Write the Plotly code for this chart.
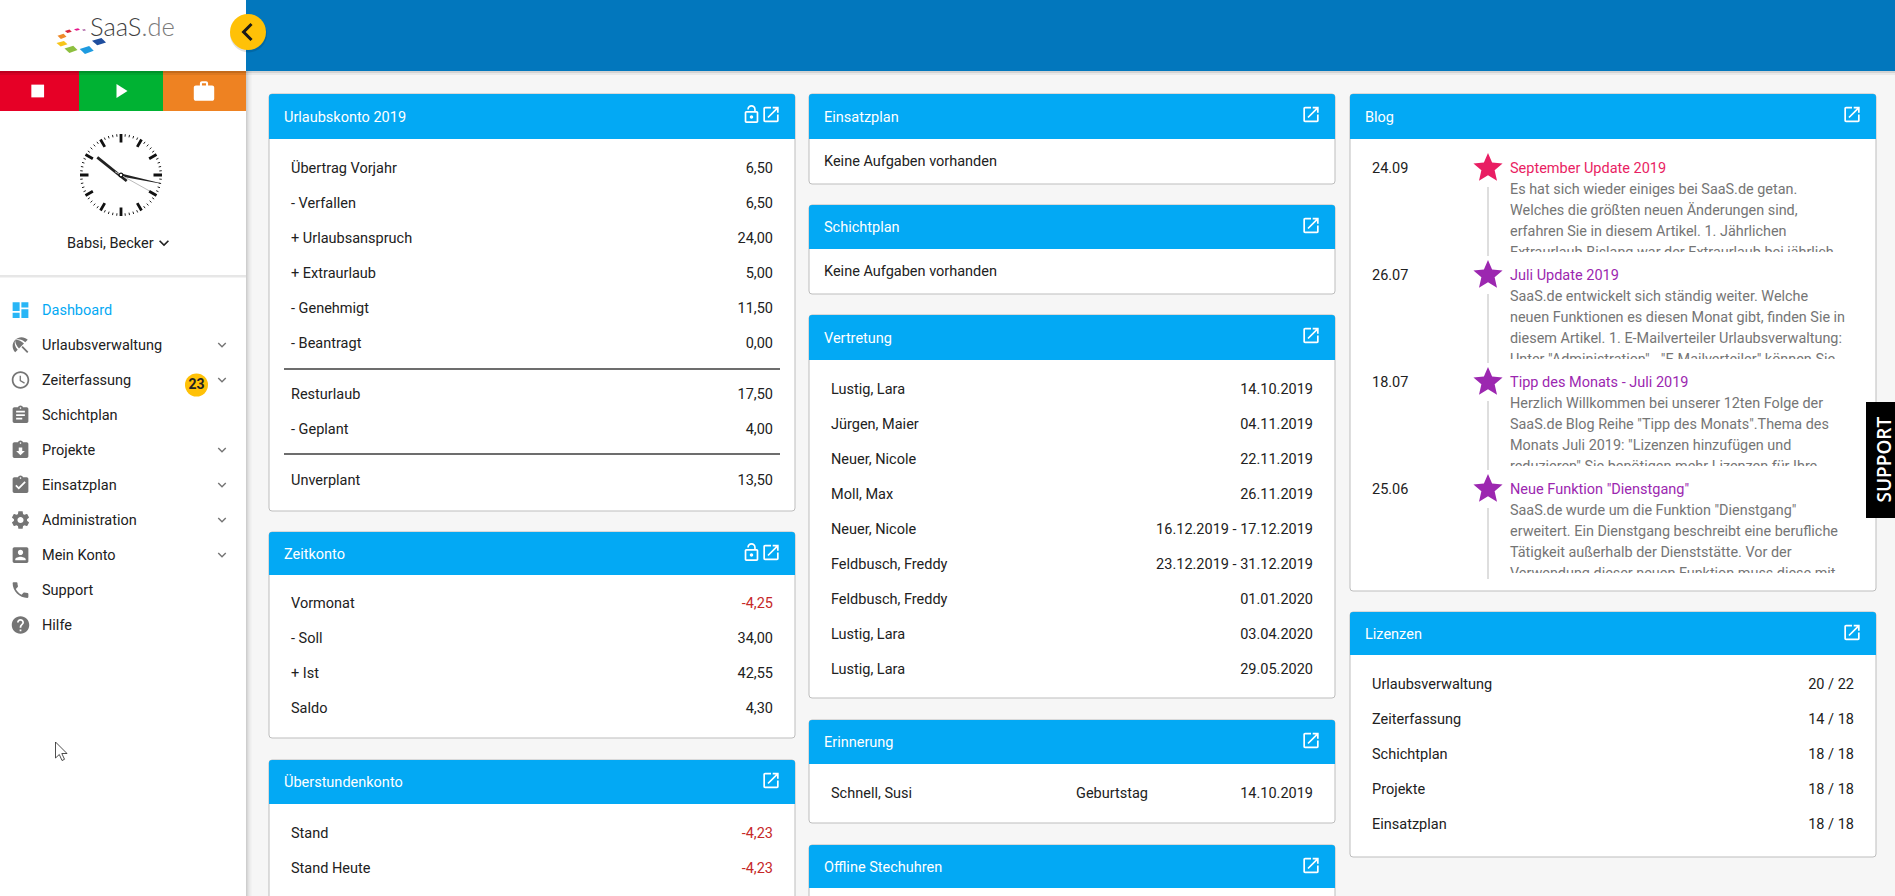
import math, re
from collections import defaultdict
import plotly.graph_objects as go

# ---------- content ----------
NAV_ITEMS = ["Dashboard", "Urlaubsverwaltung", "Zeiterfassung", "Schichtplan", "Projekte",
             "Einsatzplan", "Administration", "Mein Konto", "Support", "Hilfe"]
NAV_HAS_CHEVRON = [False, True, True, False, True, True, True, True, False, False]
USER_NAME = "Babsi, Becker"
BADGE_COUNT = "23"

URLAUB_TITLE = "Urlaubskonto 2019"
URLAUB_LABELS = ["Übertrag Vorjahr", "- Verfallen", "+ Urlaubsanspruch", "+ Extraurlaub", "- Genehmigt",
                 "- Beantragt", "Resturlaub", "- Geplant", "Unverplant"]
URLAUB_VALUES = ["6,50", "6,50", "24,00", "5,00", "11,50", "0,00", "17,50", "4,00", "13,50"]
ZEIT_LABELS = ["Vormonat", "- Soll", "+ Ist", "Saldo"]
ZEIT_VALUES = ["-4,25", "34,00", "42,55", "4,30"]
UEBER_LABELS = ["Stand", "Stand Heute"]
UEBER_VALUES = ["-4,23", "-4,23"]
EMPTY_TEXT = "Keine Aufgaben vorhanden"
VERTRETUNG_NAMES = ["Lustig, Lara", "Jürgen, Maier", "Neuer, Nicole", "Moll, Max", "Neuer, Nicole",
                    "Feldbusch, Freddy", "Feldbusch, Freddy", "Lustig, Lara", "Lustig, Lara"]
VERTRETUNG_DATES = ["14.10.2019", "04.11.2019", "22.11.2019", "26.11.2019", "16.12.2019 - 17.12.2019",
                    "23.12.2019 - 31.12.2019", "01.01.2020", "03.04.2020", "29.05.2020"]
ERINNERUNG = ["Schnell, Susi", "Geburtstag", "14.10.2019"]
BLOG_DATES = ["24.09", "26.07", "18.07", "25.06"]
BLOG_TITLES = ["September Update 2019", "Juli Update 2019", "Tipp des Monats - Juli 2019",
               'Neue Funktion "Dienstgang"']
BLOG_COLORS = ["#E91E63", "#9C27B0", "#9C27B0", "#9C27B0"]
BLOG_BODIES = [
    ["Es hat sich wieder einiges bei SaaS.de getan.", "Welches die größten neuen Änderungen sind,",
     "erfahren Sie in diesem Artikel. 1. Jährlichen", "Extraurlaub Bislang war der Extraurlaub bei jährlich"],
    ["SaaS.de entwickelt sich ständig weiter. Welche", "neuen Funktionen es diesen Monat gibt, finden Sie in",
     "diesem Artikel. 1. E-Mailverteiler Urlaubsverwaltung:", 'Unter "Administration" - "E-Mailverteiler" können Sie'],
    ["Herzlich Willkommen bei unserer 12ten Folge der", 'SaaS.de Blog Reihe "Tipp des Monats".Thema des',
     'Monats Juli 2019: "Lizenzen hinzufügen und', 'reduzieren" Sie benötigen mehr Lizenzen für Ihre'],
    ['SaaS.de wurde um die Funktion "Dienstgang"', "erweitert. Ein Dienstgang beschreibt eine berufliche",
     "Tätigkeit außerhalb der Dienststätte. Vor der", "Verwendung dieser neuen Funktion muss diese mit"],
]
LIZENZ_LABELS = ["Urlaubsverwaltung", "Zeiterfassung", "Schichtplan", "Projekte", "Einsatzplan"]
LIZENZ_VALUES = ["20 / 22", "14 / 18", "18 / 18", "18 / 18", "18 / 18"]

# ---------- icon outlines (24 unit grid) ----------
ICONS = {
    "dash": "M3 13h8V3H3v10zm0 8h8v-6H3v6zm10 0h8V11h-8v10zm0-18v6h8V3h-8z",
    "open": "M19 19H5V5h7V3H5c-1.11 0-2 .9-2 2v14c0 1.1.89 2 2 2h14c1.1 0 2-.9 2-2v-7h-2v7zM14 3v2h3.59l-9.83 9.83 1.41 1.41L19 6.41V10h2V3h-7z",
    "lock": "M12 17c1.1 0 2-.9 2-2s-.9-2-2-2-2 .9-2 2 .9 2 2 2zm6-9h-1V6c0-2.76-2.24-5-5-5S7 3.24 7 6h1.9c0-1.71 1.39-3.1 3.1-3.1 1.71 0 3.1 1.39 3.1 3.1v2H6c-1.1 0-2 .9-2 2v10c0 1.1.9 2 2 2h12c1.1 0 2-.9 2-2V10c0-1.1-.9-2-2-2zm0 12H6V10h12v10z",
    "clock": "M11.99 2C6.47 2 2 6.48 2 12s4.47 10 9.99 10C17.52 22 22 17.52 22 12S17.52 2 11.99 2zM12 20c-4.42 0-8-3.58-8-8s3.58-8 8-8 8 3.58 8 8-3.58 8-8 8zm.5-13H11v6l5.25 3.15.75-1.23-4.5-2.67z",
    "assign": "M19 3h-4.18C14.4 1.84 13.3 1 12 1c-1.3 0-2.4.84-2.82 2H5c-1.1 0-2 .9-2 2v14c0 1.1.9 2 2 2h14c1.1 0 2-.9 2-2V5c0-1.1-.9-2-2-2zm-7 0c.55 0 1 .45 1 1s-.45 1-1 1-1-.45-1-1 .45-1 1-1zm2 14H7v-2h7v2zm3-4H7v-2h10v2zm0-4H7V7h10v2z",
    "returned": "M19 3h-4.18C14.4 1.84 13.3 1 12 1c-1.3 0-2.4.84-2.82 2H5c-1.1 0-2 .9-2 2v14c0 1.1.9 2 2 2h14c1.1 0 2-.9 2-2V5c0-1.1-.9-2-2-2zm-7 0c.55 0 1 .45 1 1s-.45 1-1 1-1-.45-1-1 .45-1 1-1zm0 15l-5-5h3V9h4v4h3l-5 5z",
    "turned": "M19 3h-4.18C14.4 1.84 13.3 1 12 1c-1.3 0-2.4.84-2.82 2H5c-1.1 0-2 .9-2 2v14c0 1.1.9 2 2 2h14c1.1 0 2-.9 2-2V5c0-1.1-.9-2-2-2zm-7 0c.55 0 1 .45 1 1s-.45 1-1 1-1-.45-1-1 .45-1 1-1zm-2 14l-4-4 1.41-1.41L10 14.17l6.59-6.59L18 9l-8 8z",
    "gear": "M19.43 12.98c.04-.32.07-.64.07-.98s-.03-.66-.07-.98l2.11-1.65c.19-.15.24-.42.12-.64l-2-3.46c-.12-.22-.39-.3-.61-.22l-2.49 1c-.52-.4-1.08-.73-1.69-.98l-.38-2.65C14.46 2.18 14.25 2 14 2h-4c-.25 0-.46.18-.49.42l-.38 2.65c-.61.25-1.17.59-1.69.98l-2.49-1c-.23-.09-.49 0-.61.22l-2 3.46c-.13.22-.07.49.12.64l2.11 1.65c-.04.32-.07.65-.07.98s.03.66.07.98l-2.11 1.65c-.19.15-.24.42-.12.64l2 3.46c.12.22.39.3.61.22l2.49-1c.52.4 1.08.73 1.69.98l.38 2.65c.03.24.24.42.49.42h4c.25 0 .46-.18.49-.42l.38-2.65c.61-.25 1.17-.59 1.69-.98l2.49 1c.23.09.49 0 .61-.22l2-3.46c.12-.22.07-.49-.12-.64l-2.11-1.65zM12 15.5c-1.93 0-3.5-1.57-3.5-3.5s1.57-3.5 3.5-3.5 3.5 1.57 3.5 3.5-1.57 3.5-3.5 3.5z",
    "account": "M3 5v14c0 1.1.89 2 2 2h14c1.1 0 2-.9 2-2V5c0-1.1-.9-2-2-2H5c-1.11 0-2 .9-2 2zm12 4c0 1.66-1.34 3-3 3s-3-1.34-3-3 1.34-3 3-3 3 1.34 3 3zm-9 8c0-2 4-3.1 6-3.1s6 1.1 6 3.1v1H6v-1z",
    "phone": "M6.62 10.79c1.44 2.83 3.76 5.14 6.59 6.59l2.2-2.2c.27-.27.67-.36 1.02-.24 1.12.37 2.33.57 3.57.57.55 0 1 .45 1 1V20c0 .55-.45 1-1 1-9.39 0-17-7.61-17-17 0-.55.45-1 1-1h3.5c.55 0 1 .45 1 1 0 1.25.2 2.45.57 3.57.11.35.03.74-.25 1.02l-2.2 2.2z",
    "help": "M12 2C6.48 2 2 6.48 2 12s4.48 10 10 10 10-4.48 10-10S17.52 2 12 2zm1 17h-2v-2h2v2zm2.07-7.75l-.9.92C13.45 12.9 13 13.5 13 15h-2v-.5c0-1.1.45-2.1 1.17-2.83l1.24-1.26c.37-.36.59-.86.59-1.41 0-1.1-.9-2-2-2s-2 .9-2 2H8c0-2.21 1.79-4 4-4s4 1.79 4 4c0 .88-.36 1.68-.93 2.25z",
    "beach": "M13.127 14.56l1.43-1.43 6.44 6.443L19.57 21zm4.293-5.73l2.86-2.86c-3.95-3.95-10.35-3.96-14.3-.02 3.93-1.3 8.31-.25 11.44 2.88zM5.95 5.98c-3.94 3.95-3.93 10.35.02 14.3l2.86-2.86C5.7 14.29 4.65 9.91 5.95 5.98zm.02-.02l-.01.01c-.38 3.01 1.17 6.88 4.3 10.02l5.73-5.73c-3.13-3.13-7.01-4.68-10.02-4.3z",
    "work": "M20 6h-4V4c0-1.11-.89-2-2-2h-4c-1.11 0-2 .89-2 2v2H4c-1.11 0-1.99.89-1.99 2L2 19c0 1.11.89 2 2 2h16c1.11 0 2-.89 2-2V8c0-1.11-.89-2-2-2zm-6 0h-4V4h4v2z",
    "star": "M12 17.27L18.18 21l-1.64-7.03L22 9.24l-7.19-.61L12 2 9.19 8.63 2 9.24l5.46 4.73L5.82 21z",
    "down": "M7.41 8.59L12 13.17l4.59-4.58L18 10l-6 6-6-6 1.41-1.41z",
    "left": "M15.41 7.41L14 6l-6 6 6 6 1.41-1.41L10.83 12z",
    "play": "M8 5v14l11-7z",
    "stop": "M6 6h12v12H6z",
}
NAV_ICONS = ["dash", "beach", "clock", "assign", "returned", "turned", "gear", "account", "phone", "help"]

# ---------- styling ----------
W, H = 1895, 896
FONT = "Roboto"
FS = 14.5
FS_BODY = 14.4
TXT = "#212121"
BLUE = "#03A9F4"
GRAY = "#757575"
RED = "#C62828"
BORDER = "#BDBDBD"
TEXT_DY = 1.0

shapes = []
texts = defaultdict(list)


def rect(x0, y0, x1, y1, fill, opacity=1, layer="below"):
    shapes.append(dict(type="rect", xref="x", yref="y", x0=x0, y0=y0, x1=x1, y1=y1, fillcolor=fill,
                       opacity=opacity, line_width=0, layer=layer))


def hline(x0, x1, y, color, width=1):
    shapes.append(dict(type="line", xref="x", yref="y", x0=x0, x1=x1, y0=y, y1=y,
                       line=dict(color=color, width=width), layer="below"))


def vline(x, y0, y1, color, width=1):
    shapes.append(dict(type="line", xref="x", yref="y", x0=x, x1=x, y0=y0, y1=y1,
                       line=dict(color=color, width=width), layer="below"))


def path(d, fill="rgba(0,0,0,0)", line_color=None, line_width=0, layer="below"):
    shapes.append(dict(type="path", xref="x", yref="y", path=d, fillcolor=fill, layer=layer,
                       line=dict(color=line_color or "rgba(0,0,0,0)", width=line_width)))


def circle(cx, cy, r, fill, line_color=None, line_width=0, opacity=1):
    shapes.append(dict(type="circle", xref="x", yref="y", x0=cx - r, x1=cx + r, y0=cy - r, y1=cy + r,
                       fillcolor=fill, opacity=opacity, layer="below",
                       line=dict(color=line_color or "rgba(0,0,0,0)", width=line_width)))


def T(x, y, s, color=TXT, size=FS, align="left", weight=400):
    texts[(color, size, align, weight)].append((x, y + TEXT_DY, s))


def svg_abs(d, cx, cy, scale, ox=12, oy=12):
    """Turn an icon outline into absolute commands, placed with its (ox, oy) at (cx, cy)."""
    toks = re.findall(r"[MmLlHhVvCcSsZz]|-?\d*\.?\d+", d)
    i = 0
    x = y = sx = sy = 0.0
    lcx = lcy = None
    out = []
    px = lambda a: f"{cx + (a - ox) * scale:.3f}"
    py = lambda a: f"{cy + (a - oy) * scale:.3f}"
    cmd = None
    while i < len(toks):
        if re.match(r"[A-Za-z]", toks[i]):
            cmd = toks[i]
            i += 1
            if cmd in "Zz":
                out.append("Z")
                x, y = sx, sy
                lcx = None
                continue
        rel = cmd.islower()
        c = cmd.upper()
        n = lambda k: float(toks[i + k])
        if c in "ML":
            nx, ny = n(0), n(1)
            i += 2
            if rel:
                nx += x
                ny += y
            out.append(f"{c if c == 'M' else 'L'}{px(nx)},{py(ny)}")
            x, y = nx, ny
            if c == "M":
                sx, sy = x, y
                cmd = "l" if rel else "L"
            lcx = None
        elif c == "H":
            nx = n(0) + (x if rel else 0)
            i += 1
            out.append(f"L{px(nx)},{py(y)}")
            x = nx
            lcx = None
        elif c == "V":
            ny = n(0) + (y if rel else 0)
            i += 1
            out.append(f"L{px(x)},{py(ny)}")
            y = ny
            lcx = None
        elif c == "C":
            a = [n(k) for k in range(6)]
            i += 6
            if rel:
                a = [a[k] + (x if k % 2 == 0 else y) for k in range(6)]
            out.append(f"C{px(a[0])},{py(a[1])} {px(a[2])},{py(a[3])} {px(a[4])},{py(a[5])}")
            lcx, lcy = a[2], a[3]
            x, y = a[4], a[5]
        elif c == "S":
            a = [n(k) for k in range(4)]
            i += 4
            if rel:
                a = [a[k] + (x if k % 2 == 0 else y) for k in range(4)]
            c1x = 2 * x - lcx if lcx is not None else x
            c1y = 2 * y - lcy if lcx is not None else y
            out.append(f"C{px(c1x)},{py(c1y)} {px(a[0])},{py(a[1])} {px(a[2])},{py(a[3])}")
            lcx, lcy = a[0], a[1]
            x, y = a[2], a[3]
    return " ".join(out)


def icon(name, cx, cy, size, color, ox=12, oy=12):
    path(svg_abs(ICONS[name], cx, cy, size / 24, ox, oy), fill=color)


def card(x0, y0, x1, y1, head_bottom, title, lock=False):
    r = 3
    path(f"M{x0 + r},{y0} L{x1 - r},{y0} Q{x1},{y0} {x1},{y0 + r} L{x1},{y1 - r} Q{x1},{y1} {x1 - r},{y1} "
         f"L{x0 + r},{y1} Q{x0},{y1} {x0},{y1 - r} L{x0},{y0 + r} Q{x0},{y0} {x0 + r},{y0} Z",
         fill="#FFFFFF", line_color=BORDER, line_width=1)
    path(f"M{x0 + r},{y0} L{x1 - r},{y0} Q{x1},{y0} {x1},{y0 + r} L{x1},{head_bottom} L{x0},{head_bottom} "
         f"L{x0},{y0 + r} Q{x0},{y0} {x0 + r},{y0} Z", fill=BLUE)
    T(x0 + 15, (y0 + head_bottom) / 2 + 0.5, title, "#FFFFFF", FS)
    icon("open", x1 - 24, y0 + 20.5, 20.5, "#FFFFFF")
    if lock:
        icon("lock", x1 - 43.5, y0 + 20.5, 20.5, "#FFFFFF")


# ---------- page ----------
rect(0, 0, W, H, "#F6F6F6")
rect(246, 0, W, 71, "#0277BD")
rect(246, 71, W, 73, "#000000", 0.14)
rect(246, 73, W, 75, "#000000", 0.05)

# columns
COL1 = (269, 795)
COL2 = (809, 1335)
COL3 = (1350, 1876)
ROW = 35

# Urlaubskonto
card(COL1[0], 94, COL1[1], 511, 139, URLAUB_TITLE, lock=True)
urlaub_y = [168, 203, 238, 273, 308, 343, 394, 429, 480]
for y, lab, val in zip(urlaub_y, URLAUB_LABELS, URLAUB_VALUES):
    T(291, y, lab)
    T(773, y, val, align="right")
hline(284, 780, 369, "#3C3C3C", 1.3)
hline(284, 780, 454, "#3C3C3C", 1.3)

# Zeitkonto
card(COL1[0], 532, COL1[1], 738, 575, "Zeitkonto", lock=True)
for k, (lab, val) in enumerate(zip(ZEIT_LABELS, ZEIT_VALUES)):
    T(291, 603 + k * ROW, lab)
    T(773, 603 + k * ROW, val, RED if val.startswith("-") else TXT, align="right")

# Überstundenkonto
card(COL1[0], 760, COL1[1], 920, 804, "Überstundenkonto")
for k, (lab, val) in enumerate(zip(UEBER_LABELS, UEBER_VALUES)):
    T(291, 833 + k * ROW, lab)
    T(773, 833 + k * ROW, val, RED, align="right")

# Einsatzplan / Schichtplan
card(COL2[0], 94, COL2[1], 184, 139, "Einsatzplan")
T(824, 161, EMPTY_TEXT)
card(COL2[0], 205, COL2[1], 294, 249, "Schichtplan")
T(824, 271, EMPTY_TEXT)

# Vertretung
card(COL2[0], 315, COL2[1], 698, 360, "Vertretung")
for k, (nm, dt) in enumerate(zip(VERTRETUNG_NAMES, VERTRETUNG_DATES)):
    T(831, 389 + k * ROW, nm)
    T(1313, 389 + k * ROW, dt, align="right")

# Erinnerung
card(COL2[0], 720, COL2[1], 823, 764, "Erinnerung")
T(831, 793, ERINNERUNG[0])
T(1076, 793, ERINNERUNG[1])
T(1313, 793, ERINNERUNG[2], align="right")

# Offline Stechuhren
card(COL2[0], 845, COL2[1], 920, 888, "Offline Stechuhren")

# Blog
card(COL3[0], 94, COL3[1], 591, 139, "Blog")
for k in range(4):
    y0 = 168 + k * 107
    T(1372, y0, BLOG_DATES[k])
    icon("star", 1488, y0 - 0.5, 35, BLOG_COLORS[k])
    vline(1488, y0 + 19, y0 + 88 if k < 3 else y0 + 90, BORDER)
    T(1510, y0, BLOG_TITLES[k], BLOG_COLORS[k])
    for j, line in enumerate(BLOG_BODIES[k]):
        T(1510, y0 + 21 + j * 21, line, GRAY, FS_BODY)
    rect(1505, y0 + 84, 1860, y0 + 96, "#FFFFFF", layer="above")

# Lizenzen
card(COL3[0], 612, COL3[1], 857, 655, "Lizenzen")
for k, (lab, val) in enumerate(zip(LIZENZ_LABELS, LIZENZ_VALUES)):
    T(1372, 684 + k * ROW, lab)
    T(1854, 684 + k * ROW, val, align="right")

# Support tab
rect(1866, 402, W, 518, "#000000", layer="above")

# ---------- sidebar ----------
for k, op in enumerate([0.16, 0.12, 0.08, 0.05, 0.03, 0.015]):
    rect(246 + k, 71, 247 + k, H, "#000000", op)
rect(0, 0, 246, H, "#FFFFFF")

# logo tiles: centre and half-extents
LOGO_TILES = [(99, 41.7, 7, 3.6, "#1F4E9E"), (86.7, 50, 7, 4, "#1E9BE0"), (71, 49.3, 6.5, 3.6, "#8DBF3F"),
              (62, 43.7, 5.5, 2.8, "#F7C519"), (62, 36.3, 4.5, 2.6, "#EE8A2A"), (68.3, 31.3, 3.5, 1.7, "#D7263D"),
              (77, 29.5, 3, 1.2, "#E6198C"), (84, 30, 2, 0.8, "#9A3E8F")]
for cx, cy, a, b, col in LOGO_TILES:
    path(f"M{cx - a},{cy - 0.25 * b} L{cx + 0.35 * a},{cy - b} L{cx + a},{cy + 0.2 * b} "
         f"L{cx - 0.25 * a},{cy + b} Z", fill=col)

# action buttons
rect(0, 71, 79, 111, "#E60026")
rect(79, 71, 163, 111, "#00B233")
rect(163, 71, 246, 111, "#EE8222")
rect(0, 71, 246, 73, "#000000", 0.18)
rect(0, 73, 246, 75, "#000000", 0.07)
icon("stop", 37.7, 91, 25.5, "#FFFFFF")
icon("play", 122, 91, 24, "#FFFFFF", 13.5, 12)
icon("work", 204, 91, 24.5, "#FFFFFF", 12, 11.5)

# clock
CX, CY, CR = 121, 175, 41
ticks_fine, ticks_big = [], []
for m in range(60):
    a = math.radians(m * 6)
    s, c = math.sin(a), -math.cos(a)
    if m % 5 == 0:
        ticks_big.append(f"M{CX + 32.5 * s:.2f},{CY + 32.5 * c:.2f} L{CX + 41 * s:.2f},{CY + 41 * c:.2f}")
    else:
        ticks_fine.append(f"M{CX + 38.5 * s:.2f},{CY + 38.5 * c:.2f} L{CX + 41 * s:.2f},{CY + 41 * c:.2f}")
path(" ".join(ticks_fine), line_color="#222222", line_width=1)
path(" ".join(ticks_big), line_color="#111111", line_width=2.8)
path(f"M{CX + 5.7},{CY + 6} L{CX - 23.7},{CY - 17.7}", line_color="#222222", line_width=2.8)
path(f"M{CX},{CY - 1.4} L{CX + 39},{CY + 8} L{CX + 39},{CY + 8.6} L{CX},{CY + 1.4} Z", fill="#222222")
path(f"M{CX - 6},{CY - 3.3} L{CX + 28},{CY + 15.7}", line_color="#BBBBBB", line_width=1)
circle(CX, CY, 1.9, "#FFFFFF", "#111111", 1.2)

T(67, 243, USER_NAME, size=FS)
icon("down", 164, 243, 20, "#212121")
hline(0, 246, 276, "#CCCCCC", 1)
hline(0, 246, 277, "#E8E8E8", 1)

# nav
for k, (item, ic, chev) in enumerate(zip(NAV_ITEMS, NAV_ICONS, NAV_HAS_CHEVRON)):
    y = 310 + k * ROW
    T(42, y, item, BLUE if k == 0 else TXT)
    icon(ic, 20.5, y, 21, "#29B6F6" if k == 0 else GRAY)
    if chev:
        icon("down", 222, y, 17, GRAY)
circle(196.5, 385, 11.5, "#FFC107")
T(196.5, 384, BADGE_COUNT, TXT, 14, "center", 700)

# toggle button
circle(248.5, 34, 18.5, "#000000", opacity=0.12)
circle(248, 32, 18, "#FFC107")
icon("left", 247, 32, 36, "#1A1A1A", 11.7, 12)

# pointer
path("M55.5,742 L55.5,758 L59.3,754.5 L62,760.5 L64.5,759.3 L61.8,753.5 L67,753.5 Z",
     fill="#FFFFFF", line_color="#222222", line_width=0.8)

# ---------- text ----------
fig = go.Figure()
POS = {"left": "middle right", "right": "middle left", "center": "middle center"}
for (color, size, align, weight), items in texts.items():
    fig.add_trace(go.Scatter(
        x=[i[0] for i in items], y=[i[1] for i in items], text=[i[2] for i in items],
        mode="text", textposition=POS[align], hoverinfo="skip", showlegend=False, cliponaxis=False,
        textfont=dict(family=FONT, size=size, color=color, weight=weight)))

annotations = [
    dict(x=87.5, y=26, xref="x", yref="y", xanchor="left", yanchor="middle", showarrow=False,
         text='<span style="color:#3f3f3f">SaaS</span><span style="color:#7a7a7a">.de</span>',
         font=dict(family="Lato", size=25.5, weight=300)),
    dict(x=1883.5, y=460, xref="x", yref="y", xanchor="center", yanchor="middle", showarrow=False,
         text="SUPPORT", textangle=-90, font=dict(family="Open Sans", size=19, color="#FFFFFF", weight=600)),
]

fig.update_layout(
    width=W, height=H, margin=dict(l=0, r=0, t=0, b=0), showlegend=False,
    paper_bgcolor="#F6F6F6", plot_bgcolor="#F6F6F6", shapes=shapes, annotations=annotations,
    xaxis=dict(range=[0, W], visible=False, fixedrange=True),
    yaxis=dict(range=[H, 0], visible=False, fixedrange=True),
)
fig.write_html("out.html", config=dict(displayModeBar=False),
               post_script="document.body.style.margin='0';document.body.style.overflow='hidden';")
